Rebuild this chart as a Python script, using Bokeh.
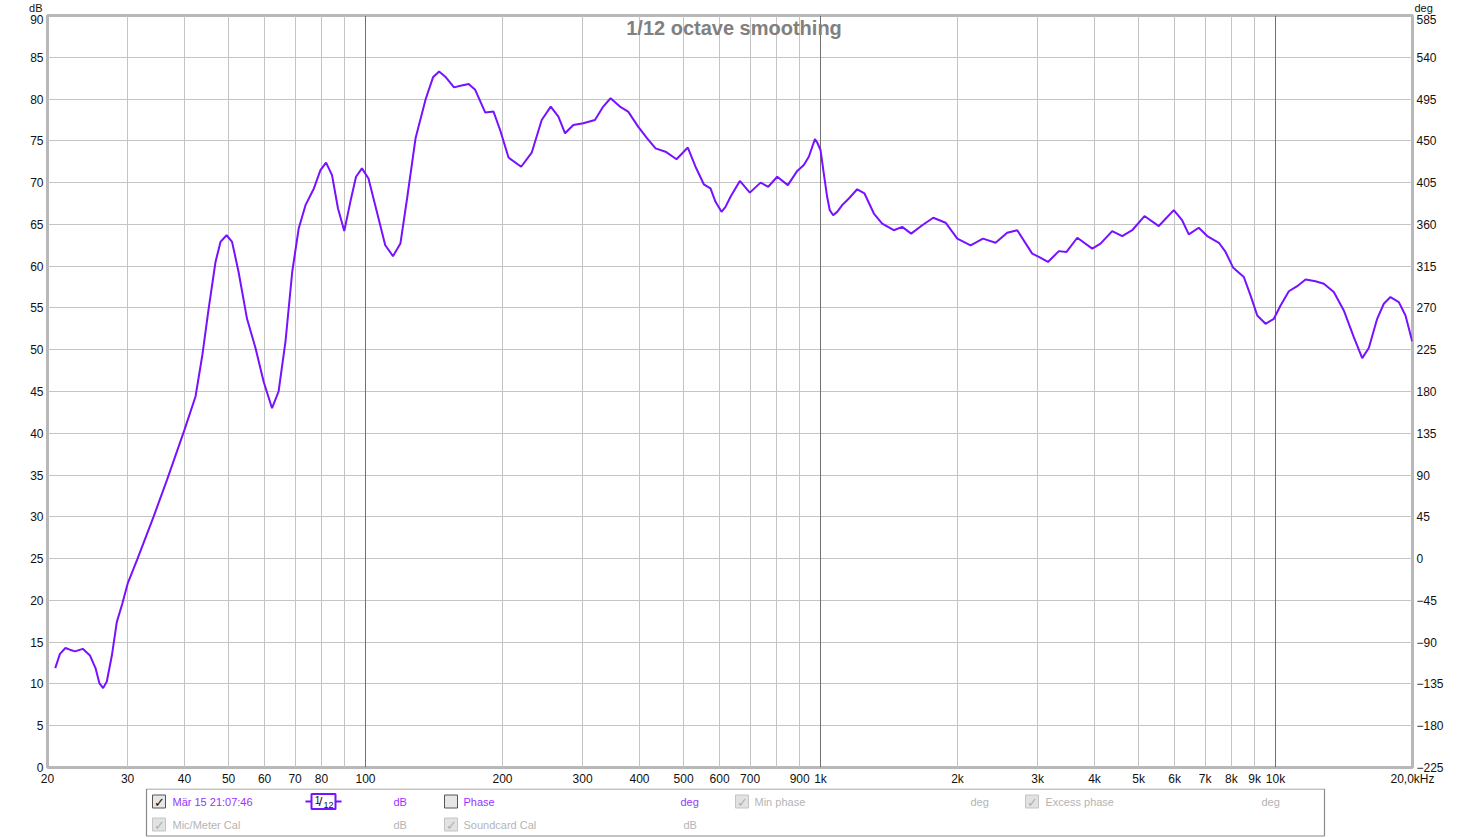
from bokeh.plotting import figure
from bokeh.models import Range1d, LinearAxis, FixedTicker, Grid, Label
from bokeh.layouts import column
from bokeh.embed import file_html
from bokeh.resources import INLINE
from bokeh.core.properties import value

# ---------------- data ----------------
freq_hz = [20.8, 21.3, 21.9, 22.4, 23.0, 23.9, 24.8, 25.5, 26.0, 26.5, 27.0, 27.7, 28.4, 29.2,
           30.0, 31.5, 34.2, 36.6, 40.0, 42.3, 43.8, 45.2, 46.8, 48.0, 49.5, 50.9, 52.6, 54.9,
           57.3, 59.7, 62.3, 64.4, 66.7, 69.0, 71.3, 73.8, 77.0, 79.6, 81.9, 84.4, 87.0, 89.8,
           92.6, 95.3, 98.2, 101.5, 105.9, 110.5, 114.9, 119.3, 123.4, 128.8, 135.6, 140.7,
           145.1, 150.2, 156.5, 161.7, 168.5, 174.2, 183.2, 191.1, 197.6, 206.2, 219.8, 231.9,
           243.9, 255.3, 265.4, 274.5, 286.2, 301.0, 319.3, 333.0, 345.6, 362.3, 377.8, 397.3,
           415.9, 433.9, 456.4, 482.5, 510.9, 531.2, 553.9, 573.0, 587.7, 605.9, 618.2, 634.1,
           664.7, 699.3, 738.2, 767.5, 803.3, 847.6, 888.8, 918.9, 942.4, 972, 983.3, 1000,
           1016.5, 1034, 1047.9, 1066, 1088, 1116, 1154, 1204, 1249, 1310, 1366, 1449, 1512,
           1582, 1673, 1769, 1883, 1998, 2137, 2275, 2425, 2572, 2706, 2919, 3019, 3161, 3340,
           3473, 3667, 3955, 4125, 4375, 4603, 4842, 5152, 5539, 5975, 6233, 6447, 6780, 7078,
           7508, 7766, 8073, 8518, 8811, 9117, 9508, 9916, 10258, 10698, 11158, 11641, 12244,
           12770, 13430, 14126, 14860, 15506, 16032, 16726, 17296, 17892, 18662, 19305, 19970]
spl_db = [11.9, 13.6, 14.3, 14.1, 13.9, 14.2, 13.4, 11.9, 10.1, 9.5, 10.3, 13.4, 17.4, 19.6,
          22.0, 24.9, 30.0, 34.4, 40.4, 44.4, 49.4, 54.9, 60.5, 62.9, 63.7, 62.9, 59.3, 53.7,
          50.2, 46.2, 43.0, 45.0, 51.0, 59.3, 64.5, 67.3, 69.3, 71.5, 72.4, 70.9, 66.9, 64.2,
          67.7, 70.7, 71.7, 70.5, 66.5, 62.5, 61.2, 62.7, 68.1, 75.3, 80.0, 82.6,
          83.3, 82.6, 81.4, 81.6, 81.8, 81.1, 78.4, 78.5, 76.3, 73.0, 71.9, 73.6,
          77.5, 79.1, 77.9, 75.9, 76.9, 77.1, 77.5, 79.1, 80.1, 79.1, 78.5, 76.7,
          75.3, 74.1, 73.7, 72.8, 74.2, 71.9, 69.8, 69.3, 67.7, 66.5, 67.1, 68.3,
          70.2, 68.8, 70.0, 69.5, 70.7, 69.7, 71.4, 72.1, 73.1, 75.2, 74.8, 73.9,
          71.1, 68.3, 66.7, 66.1, 66.5, 67.3, 68.1, 69.2, 68.7, 66.3, 65.1, 64.3, 64.7,
          63.9, 64.9, 65.8, 65.2, 63.3, 62.5, 63.3, 62.8, 64.0, 64.3, 61.5, 61.1, 60.5, 61.8,
          61.7, 63.4, 62.1, 62.7, 64.2, 63.6, 64.3, 66.0, 64.8, 66.7, 65.5, 63.8, 64.6, 63.6,
          62.8, 61.7, 59.8, 58.7, 56.5, 54.1, 53.1, 53.7, 55.3, 57.0, 57.6, 58.4, 58.2,
          57.9, 56.9, 54.7, 51.5, 49.0, 50.2, 53.7, 55.5, 56.3, 55.7, 54.1, 51.0]

x_ticks = [20, 30, 40, 50, 60, 70, 80, 90, 100, 200, 300, 400, 500, 600, 700, 800, 900,
           1000, 2000, 3000, 4000, 5000, 6000, 7000, 8000, 9000, 10000, 20000]
x_tick_labels = ["20", "30", "40", "50", "60", "70", "80", "", "100", "200", "300", "400",
                 "500", "600", "700", "", "900", "1k", "2k", "3k", "4k", "5k", "6k", "7k",
                 "8k", "9k", "10k", "20,0kHz"]
decade_ticks = [100, 1000, 10000]
db_ticks = list(range(0, 91, 5))
deg_ticks = list(range(-225, 586, 45))
unit_left = "dB"
unit_right = "deg"

title_text = "1/12 octave smoothing"

# legend rows: (text, colour key)
legend_row1 = [("Mär 15 21:07:46", "on"), ("dB", "on"), ("Phase", "on"), ("deg", "on"),
               ("Min phase", "off"), ("deg", "off"), ("Excess phase", "off"), ("deg", "off")]
legend_row2 = [("Mic/Meter Cal", "off"), ("dB", "off"), ("Soundcard Cal", "off"), ("dB", "off")]

# ---------------- styling / layout ----------------
W = 1470
H_HEAD = 14
H_MAIN = 774
H_LEG = 50
FL, FR = 47, 1412          # frame left / right in page pixels
FONT = "Liberation Sans"
LINE_COL = "#7612ff"
TXT_ON = "#9a33ff"
TXT_OFF = "#b4b4b4"


def style_axis(ax, standoff, size="12px"):
    ax.axis_line_color = None
    ax.major_tick_line_color = None
    ax.minor_tick_line_color = None
    ax.major_tick_in = 0
    ax.major_tick_out = 0
    ax.minor_tick_in = 0
    ax.minor_tick_out = 0
    ax.major_label_text_font = FONT
    ax.major_label_text_font_size = size
    ax.major_label_text_color = "#111111"
    ax.major_label_standoff = standoff


# ---- header strip holding the unit captions "dB" / "deg" ----
hd = figure(width=W, height=H_HEAD, x_range=Range1d(0, 1), y_range=Range1d(0, 1),
            x_axis_type=None, y_axis_type=None, output_backend="svg",
            toolbar_location=None, min_border=0)
hd.outline_line_color = None
hd.background_fill_color = "white"
hd.border_fill_color = "white"
hax_l = LinearAxis(ticker=FixedTicker(ticks=[0.5]))
hax_l.major_label_overrides = {0.5: unit_left}
hax_r = LinearAxis(ticker=FixedTicker(ticks=[0.5]))
hax_r.major_label_overrides = {0.5: unit_right}
hd.add_layout(hax_l, "left")
hd.add_layout(hax_r, "right")
style_axis(hax_l, 5, "11px")
style_axis(hax_r, 2, "11px")

# ---- main chart ----
p = figure(width=W, height=H_MAIN, x_axis_type="log",
           x_range=Range1d(20, 20000), y_range=Range1d(0, 90),
           output_backend="svg", toolbar_location=None,
           min_border_left=FL, min_border_right=W - FR, min_border_top=1, min_border_bottom=20)
p.background_fill_color = "white"
p.border_fill_color = "white"
p.outline_line_color = "#b8b8b8"
p.outline_line_width = 3

p.xaxis.ticker = FixedTicker(ticks=x_ticks)
p.xaxis.major_label_overrides = {t: l for t, l in zip(x_ticks, x_tick_labels)}
p.yaxis.ticker = FixedTicker(ticks=db_ticks)

p.extra_y_ranges = {"deg": Range1d(-225, 585)}
rax = LinearAxis(y_range_name="deg", ticker=FixedTicker(ticks=deg_ticks))
p.add_layout(rax, "right")

for ax in p.axis:
    style_axis(ax, 4)

p.xgrid.ticker = FixedTicker(ticks=x_ticks)
p.ygrid.ticker = FixedTicker(ticks=db_ticks)
p.xgrid.grid_line_color = "#c4c4c4"
p.ygrid.grid_line_color = "#c4c4c4"
p.add_layout(Grid(dimension=0, ticker=FixedTicker(ticks=decade_ticks),
                  grid_line_color="#707070"))

p.line(freq_hz, spl_db, line_color=LINE_COL, line_width=2)

p.add_layout(Label(x=632.5, y=90, text=title_text, text_align="center", text_baseline="top",
                   x_offset=4, y_offset=-1, text_font=FONT, text_font_size="20px",
                   text_font_style="bold", text_color="#808080"))

# ---------------- legend panel (coordinates = page pixels) ----------------
top = H_HEAD + H_MAIN
lg = figure(width=W, height=H_LEG, x_range=Range1d(FL, FR), y_range=Range1d(top + H_LEG, top),
            output_backend="svg", toolbar_location=None, min_border=0)
lg.axis.visible = False
lg.grid.visible = False
lg.outline_line_color = None
lg.background_fill_color = "white"
lg.border_fill_color = "white"

lg.quad(left=146, right=1324, top=top + 0.5, bottom=top + 47.5, fill_color="white",
        line_color="#8a8a8a", line_width=1.2)

r1 = top + 13
r2 = top + 36
row1_x = [172, 393, 463, 680, 754, 970, 1045, 1261]
row2_x = [172, 393, 463, 683]
col = {"on": TXT_ON, "off": TXT_OFF}
for (t, c), x in zip(legend_row1, row1_x):
    lg.text(x=[x], y=[r1], text=[t], text_font=value(FONT), text_font_size="11px",
            text_color=col[c], text_baseline="middle", text_align="left")
for (t, c), x in zip(legend_row2, row2_x):
    lg.text(x=[x], y=[r2], text=[t], text_font=value(FONT), text_font_size="11px",
            text_color=col[c], text_baseline="middle", text_align="left")

# checkboxes: (x, y, checked, enabled)
boxes = [(158.5, r1, True, True), (450.5, r1, False, True), (741.5, r1, True, False),
         (1031.5, r1, True, False), (158.5, r2, True, False), (450.5, r2, True, False)]
for bx, by, chk, en in boxes:
    lg.rect(x=[bx], y=[by], width=13, height=13,
            fill_color="#e6e6e6" if en else "#e2e2e2",
            line_color="#555555" if en else "#c4c4c4", line_width=1)
    if chk:
        lg.text(x=[bx + 0.5], y=[by + 0.5], text=["✓"], text_font=value("DejaVu Sans"),
                text_font_size="13px", text_color="#111111" if en else "#b0b0b0",
                text_align="center", text_baseline="middle", text_font_style="bold")

# smoothing icon
lg.line(x=[305, 341], y=[r1, r1], line_color=LINE_COL, line_width=2)
lg.rect(x=[323], y=[r1], width=24, height=15, fill_color="white", line_color=LINE_COL,
        line_width=2)
lg.text(x=[317], y=[r1 - 2], text=["1"], text_font=value(FONT), text_font_size="10px",
        text_color="#111111", text_align="center", text_baseline="middle")
lg.text(x=[320], y=[r1], text=["/"], text_font=value(FONT), text_font_size="13px",
        text_color="#111111", text_align="center", text_baseline="middle")
lg.text(x=[328], y=[r1 + 3], text=["12"], text_font=value(FONT), text_font_size="9px",
        text_color="#111111", text_align="center", text_baseline="middle")

layout = column(hd, p, lg, spacing=0)
open("out.html", "w").write(file_html(layout, INLINE))
